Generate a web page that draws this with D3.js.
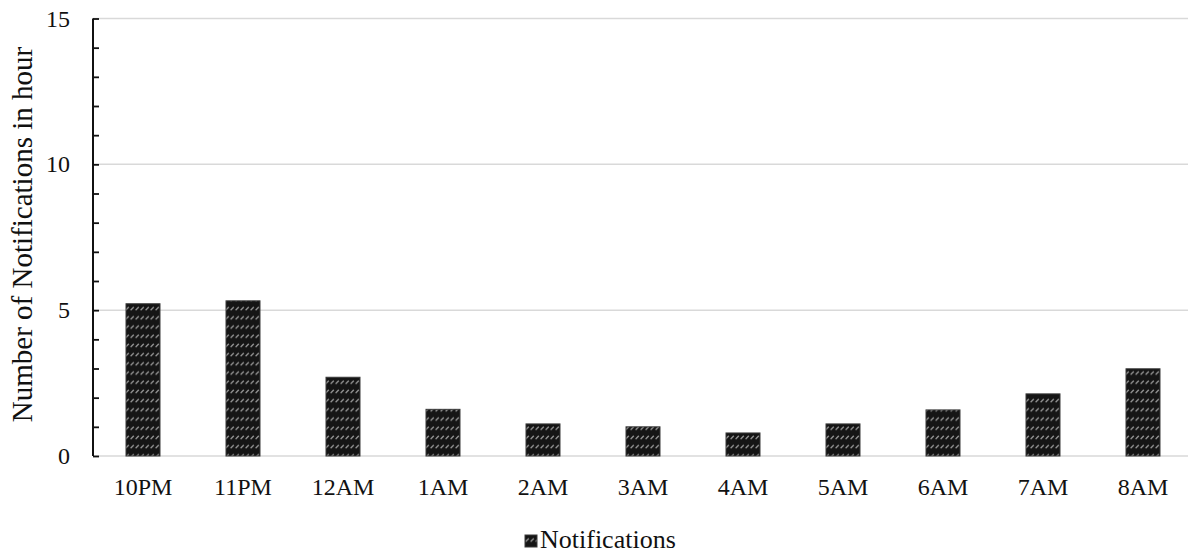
<!DOCTYPE html>
<html>
<head>
<meta charset="utf-8">
<script src="https://cdn.jsdelivr.net/npm/d3@7"></script>
<style>
  html, body { margin: 0; padding: 0; background: #fff; }
  svg { display: block; }
  text { font-family: "Liberation Serif", "Times New Roman", serif; fill: #111; }
</style>
</head>
<body>
<svg id="chart" width="1188" height="558"></svg>
<script>
// Hourly notification counts, 10PM through 8AM
const hours = ["10PM", "11PM", "12AM", "1AM", "2AM", "3AM", "4AM", "5AM", "6AM", "7AM", "8AM"];
const notifications = [5.22, 5.32, 2.70, 1.60, 1.10, 1.00, 0.79, 1.10, 1.58, 2.13, 2.99];
const yTickValues = [0, 5, 10, 15];
const seriesName = "Notifications";
const yTitle = "Number of Notifications in hour";

const svg = d3.select("#chart");
const margin = { left: 93, top: 18.5, bottom: 102 };
const H = 558;

const x = d3.scaleBand()
  .domain(hours)
  .range([margin.left, margin.left + 1100])
  .paddingInner(0.66)
  .paddingOuter(0.33);

const y = d3.scaleLinear()
  .domain([0, 15])
  .range([H - margin.bottom, margin.top]);

// Dark hatch: black ground with rows of short gray upward dashes
const defs = svg.append("defs");
const pat = defs.append("pattern")
  .attr("id", "hatch")
  .attr("patternUnits", "userSpaceOnUse")
  .attr("width", 5)
  .attr("height", 9.2);
pat.append("rect").attr("width", 5).attr("height", 9.2).attr("fill", "#151515");
pat.append("line")
  .attr("x1", 0.6).attr("y1", 6.6).attr("x2", 3.8).attr("y2", 3.4)
  .attr("stroke", "#959595").attr("stroke-width", 1.4);

// Horizontal gridlines
svg.append("g")
  .selectAll("line")
  .data(yTickValues)
  .join("line")
  .attr("x1", margin.left).attr("x2", 1188)
  .attr("y1", d => y(d)).attr("y2", d => y(d))
  .attr("stroke", "#d9d9d9").attr("stroke-width", 1.5);

// Bars
svg.append("g")
  .selectAll("rect")
  .data(hours.map((h, i) => ({ h, v: notifications[i] })))
  .join("rect")
  .attr("x", d => x(d.h))
  .attr("y", d => y(d.v))
  .attr("width", x.bandwidth())
  .attr("height", d => y(0) - y(d.v))
  .attr("fill", "url(#hatch)")
  .attr("stroke", "#3a3a3a")
  .attr("stroke-width", 1);

// Y axis: black line, minor ticks every unit pointing inward
const yAxis = d3.axisLeft(y)
  .tickValues(d3.range(0, 16, 1))
  .tickSize(-6)
  .tickFormat("");
const gy = svg.append("g")
  .attr("transform", `translate(${margin.left},0)`)
  .call(yAxis);
gy.select(".domain").attr("stroke", "#111").attr("stroke-width", 2).attr("d", `M0,${y(15)}V${y(0)}`);
gy.selectAll(".tick line").attr("stroke", "#111").attr("stroke-width", 1.8);

// Y tick labels
svg.append("g")
  .selectAll("text")
  .data(yTickValues)
  .join("text")
  .attr("x", 70)
  .attr("y", d => y(d) + 8)
  .attr("text-anchor", "end")
  .attr("font-size", 24)
  .text(d => d);

// X category labels
const xAxis = d3.axisBottom(x).tickSize(0).tickPadding(0);
const gx = svg.append("g")
  .attr("transform", `translate(0,${y(0)})`)
  .call(xAxis);
gx.select(".domain").remove();
gx.selectAll("text")
  .attr("font-size", 24)
  .attr("font-family", "Liberation Serif, Times New Roman, serif")
  .attr("fill", "#111")
  .attr("dy", 0)
  .attr("y", 39);

// Y axis title
svg.append("text")
  .attr("transform", "translate(32,234.5) rotate(-90)")
  .attr("text-anchor", "middle")
  .attr("font-size", 29)
  .text(yTitle);

// Legend
const lg = svg.append("g").attr("transform", "translate(525,535)");
lg.append("rect")
  .attr("width", 12).attr("height", 12)
  .attr("fill", "url(#hatch)")
  .attr("stroke", "#3a3a3a").attr("stroke-width", 1);
lg.append("text")
  .attr("x", 15).attr("y", 12.5)
  .attr("font-size", 26)
  .text(seriesName);
</script>
</body>
</html>
